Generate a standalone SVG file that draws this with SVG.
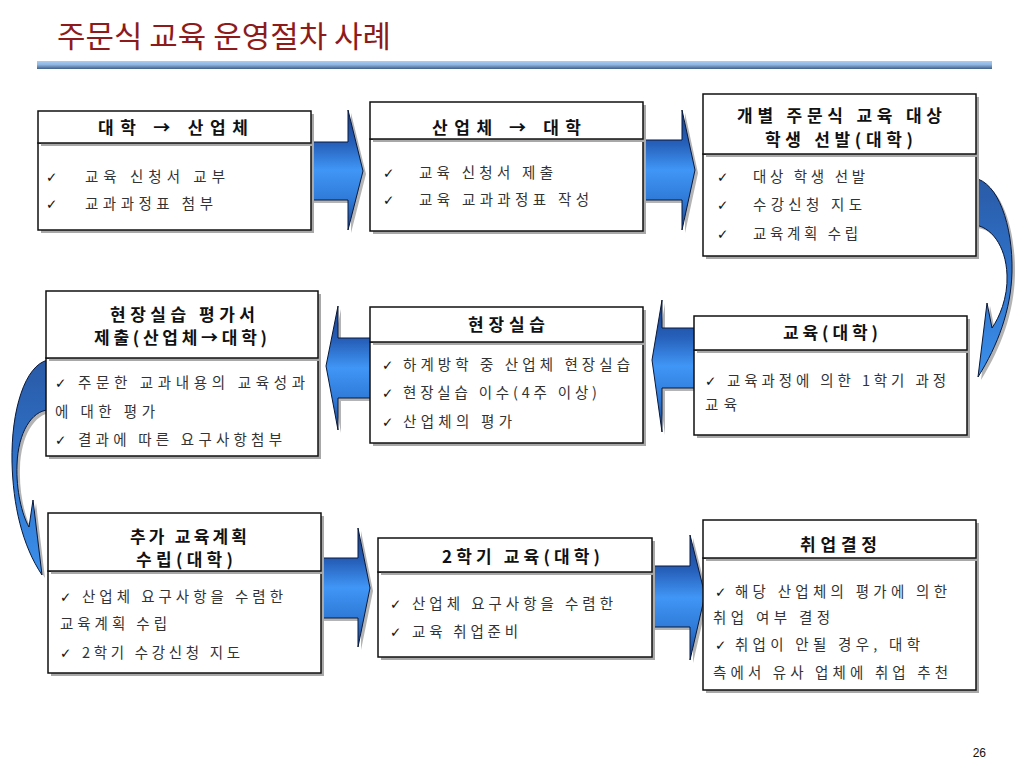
<svg xmlns="http://www.w3.org/2000/svg" width="1024" height="768" viewBox="0 0 1024 768">
<defs>
<linearGradient id="bar" x1="0" y1="0" x2="0" y2="1">
<stop offset="0" stop-color="#a9cdf2"/><stop offset="0.45" stop-color="#8fb6e0"/><stop offset="1" stop-color="#3f5f86"/>
</linearGradient>
<linearGradient id="blk" x1="0" y1="0" x2="0" y2="1">
<stop offset="0" stop-color="#1a3f8a"/><stop offset="0.28" stop-color="#2660ba"/><stop offset="0.5" stop-color="#4096f6"/><stop offset="0.75" stop-color="#2f7ad8"/><stop offset="1" stop-color="#1a4590"/>
</linearGradient>
<linearGradient id="crv" x1="0" y1="0" x2="0" y2="1">
<stop offset="0" stop-color="#2a5aa6"/><stop offset="0.5" stop-color="#2f74cc"/><stop offset="1" stop-color="#3b90ec"/>
</linearGradient>
<style>
.sh{fill:#a8a8a8}
.bx{fill:#fff;stroke:#111;stroke-width:1.5}
.ash{fill:#b4b4b4}
.arr{fill:url(#blk);stroke:#0a1838;stroke-width:1}
.carr{fill:url(#crv);stroke:#0a1838;stroke-width:1}
.hd{font-family:"Noto Sans CJK KR","Noto Sans",sans-serif;font-size:17px;font-weight:bold;fill:#111}
.tx{font-family:"Noto Sans CJK KR","Noto Sans",sans-serif;font-size:14.5px;fill:#333}
.ck{font-family:"DejaVu Sans",sans-serif;font-size:13.5px;fill:#111}
</style>
</defs>
<rect width="1024" height="768" fill="#fff"/>
<text x="57" y="47" textLength="334" lengthAdjust="spacingAndGlyphs" font-family="Noto Sans CJK KR, sans-serif" font-size="30" fill="#8e1b1b">주문식 교육 운영절차 사례</text>
<rect x="37" y="61" width="955" height="8" fill="url(#bar)"/>

<g id="connectors">
<path class="ash" transform="translate(3,3)" d="M 305 142 L 348 142 L 348 110 L 363 171 L 348 230 L 348 200 L 305 200 Z"/>
<path class="arr" d="M 305 142 L 348 142 L 348 110 L 363 171 L 348 230 L 348 200 L 305 200 Z"/>
<path class="ash" transform="translate(3,3)" d="M 637 140 L 682 140 L 682 110 L 695 170 L 682 230 L 682 200 L 637 200 Z"/>
<path class="arr" d="M 637 140 L 682 140 L 682 110 L 695 170 L 682 230 L 682 200 L 637 200 Z"/>
<path class="ash" transform="translate(3,3)" d="M 974 178 C 998 182 1013 225 1012 272 C 1011 310 998 345 978 377 L 987 303 L 992 328 C 999 318 1008 298 1007 275 C 1006 245 990 226 974 225 Z"/>
<path class="carr" d="M 974 178 C 998 182 1013 225 1012 272 C 1011 310 998 345 978 377 L 987 303 L 992 328 C 999 318 1008 298 1007 275 C 1006 245 990 226 974 225 Z"/>
<path class="ash" transform="translate(3,3)" d="M 700 328 L 662 328 L 662 300 L 652 360 L 662 432 L 662 388 L 700 388 Z"/>
<path class="arr" d="M 700 328 L 662 328 L 662 300 L 652 360 L 662 432 L 662 388 L 700 388 Z"/>
<path class="ash" transform="translate(3,3)" d="M 376 338 L 338 338 L 338 306 L 326 366 L 338 430 L 338 398 L 376 398 Z"/>
<path class="arr" d="M 376 338 L 338 338 L 338 306 L 326 366 L 338 430 L 338 398 L 376 398 Z"/>
<path class="ash" transform="translate(3,3)" d="M 48 360 C 25 365 11 410 12 462 C 13 505 22 545 42 575 L 33 500 L 29 527 C 22 515 16 490 17 465 C 18 432 32 411 48 410 Z"/>
<path class="carr" d="M 48 360 C 25 365 11 410 12 462 C 13 505 22 545 42 575 L 33 500 L 29 527 C 22 515 16 490 17 465 C 18 432 32 411 48 410 Z"/>
<path class="ash" transform="translate(3,3)" d="M 315 558 L 358 558 L 358 528 L 370 588 L 358 647 L 358 618 L 315 618 Z"/>
<path class="arr" d="M 315 558 L 358 558 L 358 528 L 370 588 L 358 647 L 358 618 L 315 618 Z"/>
<path class="ash" transform="translate(3,3)" d="M 646 566 L 690 566 L 690 535 L 705 595 L 690 660 L 690 627 L 646 627 Z"/>
<path class="arr" d="M 646 566 L 690 566 L 690 535 L 705 595 L 690 660 L 690 627 L 646 627 Z"/>
</g>

<g id="node1">
<rect class="sh" x="41" y="146" width="273" height="87"/><rect class="bx" x="38" y="143" width="273" height="87"/>
<rect class="sh" x="41" y="114" width="273" height="32"/><rect class="bx" x="38" y="111" width="273" height="32"/>
<text class="hd" x="98" y="134" textLength="150" lengthAdjust="spacing">대학 → 산업체</text>
<text class="ck" x="46" y="182">✓</text><text class="tx" x="85" y="182" textLength="140" lengthAdjust="spacing">교육 신청서 교부</text>
<text class="ck" x="46" y="209">✓</text><text class="tx" x="85" y="209" textLength="128" lengthAdjust="spacing">교과과정표 첨부</text>
</g>

<g id="node2">
<rect class="sh" x="373" y="142" width="273" height="92"/><rect class="bx" x="370" y="139" width="273" height="92"/>
<rect class="sh" x="373" y="105" width="273" height="37"/><rect class="bx" x="370" y="102" width="273" height="37"/>
<text class="hd" x="432" y="134" textLength="149" lengthAdjust="spacing">산업체 → 대학</text>
<text class="ck" x="383" y="178">✓</text><text class="tx" x="419" y="178" textLength="134" lengthAdjust="spacing">교육 신청서 제출</text>
<text class="ck" x="383" y="205">✓</text><text class="tx" x="419" y="205" textLength="170" lengthAdjust="spacing">교육 교과과정표 작성</text>
</g>

<g id="node3">
<rect class="sh" x="706" y="157" width="273" height="102"/><rect class="bx" x="703" y="154" width="273" height="102"/>
<rect class="sh" x="706" y="97" width="273" height="60"/><rect class="bx" x="703" y="94" width="273" height="60"/>
<text class="hd" x="737" y="122" textLength="205" lengthAdjust="spacing">개별 주문식 교육 대상</text>
<text class="hd" x="765" y="146" textLength="148" lengthAdjust="spacing">학생 선발(대학)</text>
<text class="ck" x="717" y="182">✓</text><text class="tx" x="753" y="182" textLength="112" lengthAdjust="spacing">대상 학생 선발</text>
<text class="ck" x="717" y="210">✓</text><text class="tx" x="753" y="210" textLength="109" lengthAdjust="spacing">수강신청 지도</text>
<text class="ck" x="717" y="239">✓</text><text class="tx" x="753" y="239" textLength="105" lengthAdjust="spacing">교육계획 수립</text>
</g>

<g id="node4">
<rect class="sh" x="49" y="361" width="272" height="98"/><rect class="bx" x="46" y="358" width="272" height="98"/>
<rect class="sh" x="49" y="294" width="272" height="67"/><rect class="bx" x="46" y="291" width="272" height="67"/>
<text class="hd" x="110" y="321" textLength="145" lengthAdjust="spacing">현장실습 평가서</text>
<text class="hd" x="94" y="344" textLength="173" lengthAdjust="spacing">제출(산업체→대학)</text>
<text class="ck" x="55" y="388">✓</text><text class="tx" x="78" y="388" textLength="227" lengthAdjust="spacing">주문한 교과내용의 교육성과</text>
<text class="tx" x="55" y="417" textLength="100" lengthAdjust="spacing">에 대한 평가</text>
<text class="ck" x="55" y="445">✓</text><text class="tx" x="78" y="445" textLength="204" lengthAdjust="spacing">결과에 따른 요구사항첨부</text>
</g>

<g id="node5">
<rect class="sh" x="373" y="345" width="273" height="101"/><rect class="bx" x="370" y="342" width="273" height="101"/>
<rect class="sh" x="373" y="310" width="273" height="35"/><rect class="bx" x="370" y="307" width="273" height="35"/>
<text class="hd" x="468" y="331" textLength="77" lengthAdjust="spacing">현장실습</text>
<text class="ck" x="382" y="370">✓</text><text class="tx" x="403" y="370" textLength="227" lengthAdjust="spacing">하계방학 중 산업체 현장실습</text>
<text class="ck" x="382" y="398">✓</text><text class="tx" x="403" y="398" textLength="194" lengthAdjust="spacing">현장실습 이수(4주 이상)</text>
<text class="ck" x="382" y="427">✓</text><text class="tx" x="403" y="427" textLength="109" lengthAdjust="spacing">산업체의 평가</text>
</g>

<g id="node6">
<rect class="sh" x="697" y="353" width="273" height="85"/><rect class="bx" x="694" y="350" width="273" height="85"/>
<rect class="sh" x="697" y="319" width="273" height="34"/><rect class="bx" x="694" y="316" width="273" height="34"/>
<text class="hd" x="783" y="339" textLength="95" lengthAdjust="spacing">교육(대학)</text>
<text class="ck" x="705" y="386">✓</text><text class="tx" x="727" y="386" textLength="219" lengthAdjust="spacing">교육과정에 의한 1학기 과정</text>
<text class="tx" x="705" y="410" textLength="32" lengthAdjust="spacing">교육</text>
</g>

<g id="node7">
<rect class="sh" x="51" y="574" width="273" height="102"/><rect class="bx" x="48" y="571" width="273" height="102"/>
<rect class="sh" x="51" y="516" width="273" height="58"/><rect class="bx" x="48" y="513" width="273" height="58"/>
<text class="hd" x="130" y="543" textLength="117" lengthAdjust="spacing">추가 교육계획</text>
<text class="hd" x="136" y="566" textLength="97" lengthAdjust="spacing">수립(대학)</text>
<text class="ck" x="60" y="602">✓</text><text class="tx" x="82" y="602" textLength="201" lengthAdjust="spacing">산업체 요구사항을 수렴한</text>
<text class="tx" x="60" y="629" textLength="107" lengthAdjust="spacing">교육계획 수립</text>
<text class="ck" x="60" y="658">✓</text><text class="tx" x="82" y="658" textLength="158" lengthAdjust="spacing">2학기 수강신청 지도</text>
</g>

<g id="node8">
<rect class="sh" x="381" y="575" width="274" height="85"/><rect class="bx" x="378" y="572" width="274" height="85"/>
<rect class="sh" x="381" y="541" width="274" height="34"/><rect class="bx" x="378" y="538" width="274" height="34"/>
<text class="hd" x="442" y="563" textLength="158" lengthAdjust="spacing">2학기 교육(대학)</text>
<text class="ck" x="390" y="609">✓</text><text class="tx" x="412" y="609" textLength="201" lengthAdjust="spacing">산업체 요구사항을 수렴한</text>
<text class="ck" x="390" y="637">✓</text><text class="tx" x="412" y="637" textLength="106" lengthAdjust="spacing">교육 취업준비</text>
</g>

<g id="node9">
<rect class="sh" x="706" y="561" width="273" height="132"/><rect class="bx" x="703" y="558" width="273" height="132"/>
<rect class="sh" x="706" y="523" width="273" height="38"/><rect class="bx" x="703" y="520" width="273" height="38"/>
<text class="hd" x="800" y="551" textLength="77" lengthAdjust="spacing">취업결정</text>
<text class="ck" x="715" y="597">✓</text><text class="tx" x="735" y="597" textLength="212" lengthAdjust="spacing">해당 산업체의 평가에 의한</text>
<text class="tx" x="713" y="623" textLength="117" lengthAdjust="spacing">취업 여부 결정</text>
<text class="ck" x="715" y="650">✓</text><text class="tx" x="735" y="650" textLength="185" lengthAdjust="spacing">취업이 안될 경우, 대학</text>
<text class="tx" x="713" y="678" textLength="235" lengthAdjust="spacing">측에서 유사 업체에 취업 추천</text>
</g>

<text x="986" y="757" text-anchor="end" font-family="Liberation Sans, sans-serif" font-size="12" fill="#111">26</text>
</svg>
